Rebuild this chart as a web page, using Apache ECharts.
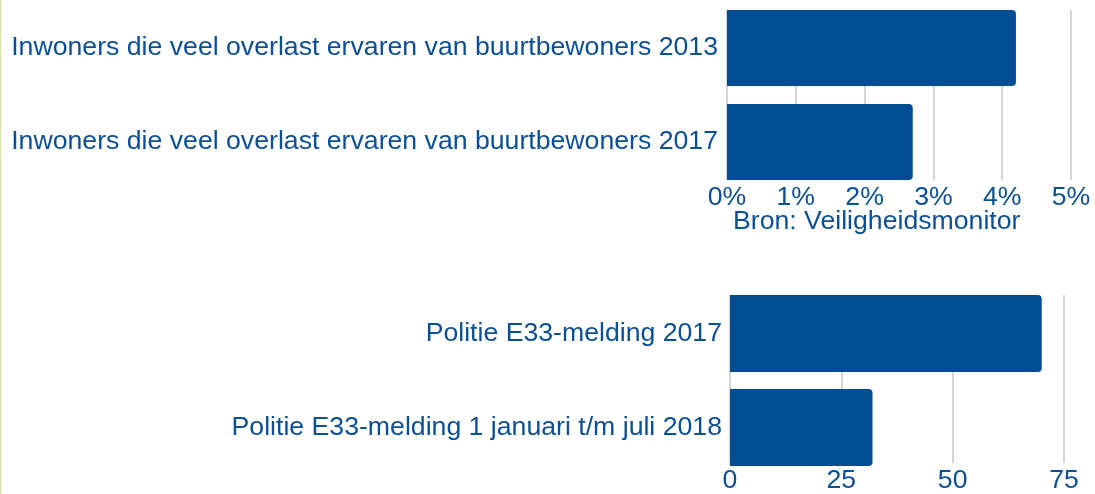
<!DOCTYPE html>
<html>
<head>
<meta charset="utf-8">
<script src="https://cdn.jsdelivr.net/npm/echarts@6/dist/echarts.min.js"></script>
<style>
  html, body { margin: 0; padding: 0; background: #fff; }
  #chart { width: 1095px; height: 494px; }
</style>
</head>
<body>
<div id="chart"></div>
<script>
// top chart: overlast buurtbewoners (percent)
const overlastCats = [
  'Inwoners die veel overlast ervaren van buurtbewoners 2013',
  'Inwoners die veel overlast ervaren van buurtbewoners 2017'
]
const overlastVals = [4.2, 2.7]
const overlastTicks = [0, 1, 2, 3, 4, 5]
const bron = 'Bron: Veiligheidsmonitor'

// bottom chart: E33 meldingen (count)
const e33Cats = [
  'Politie E33-melding 2017',
  'Politie E33-melding 1 januari t/m juli 2018'
]
const e33Vals = [70, 32]
const e33Ticks = [0, 25, 50, 75]

const blue = '#034d94'
const textBlue = '#0b4f96'
const font = 'Liberation Sans, Arial, sans-serif'
const fs = 26.67

const chart = echarts.init(document.getElementById('chart'))

// grids 0/1 carry the gridlines + tick labels, grids 2/3 carry the bars
function valueAxis(gridIndex, ticks, fmt, visible) {
  return {
    type: 'value',
    gridIndex,
    min: ticks[0],
    max: ticks[ticks.length - 1],
    interval: ticks[1] - ticks[0],
    axisLine: { show: false },
    axisTick: { show: false },
    axisLabel: { show: visible, color: textBlue, fontSize: fs, fontFamily: font, margin: 4, formatter: fmt },
    splitLine: { show: visible, lineStyle: { color: '#d4d4d4', width: 2 } }
  }
}

function catAxis(gridIndex, cats, margin, visible) {
  return {
    type: 'category',
    gridIndex,
    data: cats,
    inverse: true,
    axisLine: { show: false },
    axisTick: { show: false },
    axisLabel: { show: visible, color: textBlue, fontSize: fs, fontFamily: font, margin }
  }
}

chart.setOption({
  animation: false,
  grid: [
    { left: 727, right: 24, top: 10, bottom: 314 },
    { left: 730, right: 31, top: 295, bottom: 28 },
    { left: 727, right: 24, top: 1, bottom: 305 },
    { left: 730, right: 31, top: 286.5, bottom: 19.5 }
  ],
  xAxis: [
    valueAxis(0, overlastTicks, v => v + '%', true),
    valueAxis(1, e33Ticks, null, true),
    valueAxis(2, overlastTicks, null, false),
    valueAxis(3, e33Ticks, null, false)
  ],
  yAxis: [
    catAxis(0, overlastCats, 9, false),
    catAxis(1, e33Cats, 8, false),
    catAxis(2, overlastCats, 9, true),
    catAxis(3, e33Cats, 8, true)
  ],
  graphic: [
    {
      type: 'line',
      shape: { x1: 0.5, y1: 0, x2: 0.5, y2: 494 },
      style: { stroke: '#d6e3a6', lineWidth: 1.5 }
    },
    {
      type: 'text',
      left: 733,
      top: 208,
      style: { text: bron, fill: textBlue, fontSize: fs, fontFamily: font }
    }
  ],
  series: [
    { type: 'bar', xAxisIndex: 0, yAxisIndex: 0, data: [] },
    { type: 'bar', xAxisIndex: 1, yAxisIndex: 1, data: [] },
    {
      type: 'bar',
      xAxisIndex: 2,
      yAxisIndex: 2,
      data: overlastVals,
      barWidth: 76,
      itemStyle: { color: blue, borderRadius: [0, 4, 4, 0] }
    },
    {
      type: 'bar',
      xAxisIndex: 3,
      yAxisIndex: 3,
      data: e33Vals,
      barWidth: 77,
      itemStyle: { color: blue, borderRadius: [0, 4, 4, 0] }
    }
  ]
})
</script>
</body>
</html>
